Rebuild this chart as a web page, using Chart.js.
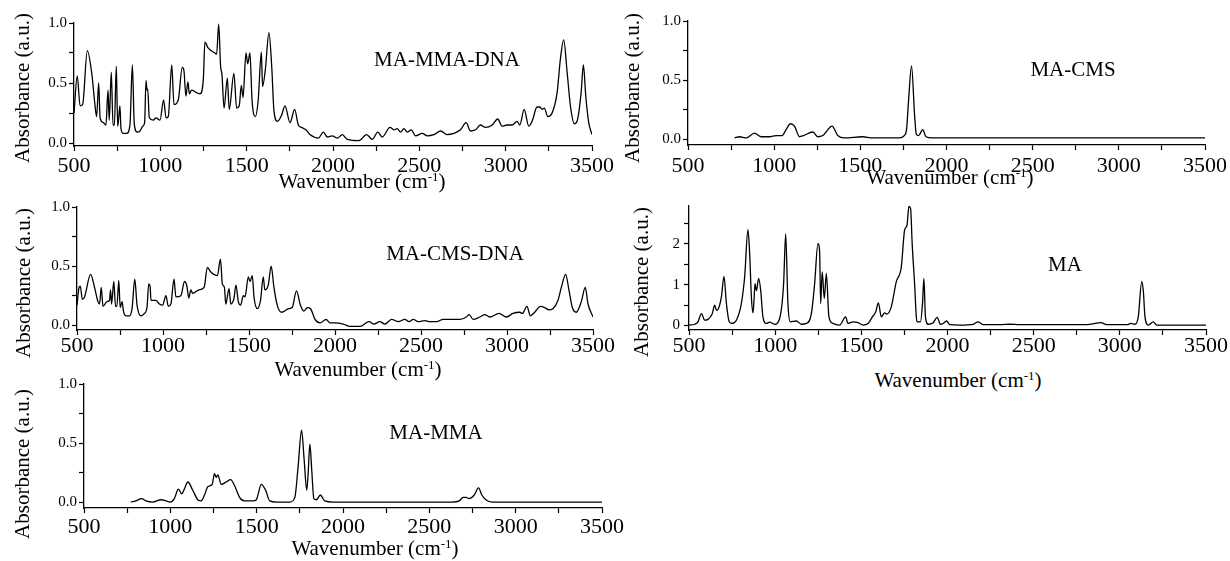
<!DOCTYPE html>
<html>
<head>
<meta charset="utf-8">
<title>FTIR spectra</title>
<script src="https://cdn.jsdelivr.net/npm/chart.js@4.4.1/dist/chart.umd.min.js"></script>
<style>
  html, body { margin: 0; padding: 0; background: #fff; }
  #page {
    position: relative; width: 1230px; height: 561px; overflow: hidden;
    font-family: "Liberation Serif", "Times New Roman", serif; color: #000;
  }
  canvas { position: absolute; }
  .lbl { position: absolute; font-size: 21px; line-height: 21px; white-space: nowrap; }
  .ctr { transform: translateX(-50%); }
  .rot { transform: translate(-50%, -50%) rotate(-90deg); }
  .lbl sup { font-size: 13px; line-height: 0; vertical-align: 7px; }
</style>
</head>
<body>
<div id="page">
  <canvas id="c1"></canvas>
  <canvas id="c2"></canvas>
  <canvas id="c3"></canvas>
  <canvas id="c4"></canvas>
  <canvas id="c5"></canvas>

  <div class="lbl ctr" style="left:447px; top:49px">MA-MMA-DNA</div>
  <div class="lbl ctr" style="left:455px; top:243px">MA-CMS-DNA</div>
  <div class="lbl ctr" style="left:436px; top:422px">MA-MMA</div>
  <div class="lbl ctr" style="left:1073px; top:59px">MA-CMS</div>
  <div class="lbl ctr" style="left:1065px; top:254px">MA</div>

  <div class="lbl ctr" style="left:362px; top:171px">Wavenumber (cm<sup>-1</sup>)</div>
  <div class="lbl ctr" style="left:358px; top:359px">Wavenumber (cm<sup>-1</sup>)</div>
  <div class="lbl ctr" style="left:375px; top:538px">Wavenumber (cm<sup>-1</sup>)</div>
  <div class="lbl ctr" style="left:950px; top:167px">Wavenumber (cm<sup>-1</sup>)</div>
  <div class="lbl ctr" style="left:958px; top:370px">Wavenumber (cm<sup>-1</sup>)</div>

  <div class="lbl rot" style="left:22px; top:88px">Absorbance (a.u.)</div>
  <div class="lbl rot" style="left:23px; top:283px">Absorbance (a.u.)</div>
  <div class="lbl rot" style="left:22px; top:464px">Absorbance (a.u.)</div>
  <div class="lbl rot" style="left:632px; top:88px">Absorbance (a.u.)</div>
  <div class="lbl rot" style="left:641px; top:282px">Absorbance (a.u.)</div>
</div>

<script>
// tick positions (minor ticks included, only some get a label)
const xTickValues = [500, 750, 1000, 1250, 1500, 1750, 2000, 2250, 2500, 2750, 3000, 3250, 3500];
const xLabelValues = [500, 1000, 1500, 2000, 2500, 3000, 3500];
const yTickValues = [0, 0.25, 0.5, 0.75, 1.0];
const yLabelValues = [0, 0.5, 1.0];
const maTickValues = [0, 0.5, 1, 1.5, 2, 2.5];
const maLabelValues = [0, 1, 2];

// spectra: [wavenumber, absorbance]
const maMmaDna = [
  [500, 0.25], [519, 0.56], [535, 0.31], [550, 0.32], [577, 0.77], [602, 0.59], [622, 0.31],
  [631, 0.22], [643, 0.50], [651, 0.21], [670, 0.17], [685, 0.15], [697, 0.44], [704, 0.19],
  [716, 0.59], [726, 0.15], [734, 0.15], [745, 0.64], [753, 0.14], [759, 0.21], [766, 0.31],
  [772, 0.12], [786, 0.08], [805, 0.08], [824, 0.15], [838, 0.65], [849, 0.16], [867, 0.09],
  [882, 0.10], [898, 0.14], [909, 0.17], [917, 0.52], [923, 0.44], [927, 0.45], [936, 0.21],
  [959, 0.19], [975, 0.21], [998, 0.19], [1019, 0.36], [1033, 0.21], [1046, 0.22], [1066, 0.65],
  [1079, 0.32], [1104, 0.36], [1127, 0.63], [1137, 0.60], [1148, 0.39], [1160, 0.51], [1168, 0.41],
  [1181, 0.44], [1210, 0.42], [1230, 0.41], [1249, 0.53], [1258, 0.84], [1278, 0.79], [1316, 0.75],
  [1326, 0.74], [1338, 0.99], [1349, 0.64], [1357, 0.57], [1369, 0.29], [1388, 0.54], [1399, 0.28],
  [1426, 0.58], [1442, 0.29], [1457, 0.31], [1469, 0.48], [1479, 0.38], [1496, 0.75], [1506, 0.66],
  [1519, 0.75], [1531, 0.36], [1550, 0.22], [1567, 0.36], [1585, 0.76], [1592, 0.47], [1608, 0.61],
  [1629, 0.92], [1645, 0.64], [1658, 0.27], [1678, 0.18], [1702, 0.23], [1722, 0.31], [1751, 0.17],
  [1778, 0.28], [1799, 0.15], [1818, 0.13], [1843, 0.11], [1866, 0.07], [1890, 0.05], [1915, 0.04],
  [1944, 0.09], [1967, 0.05], [1996, 0.06], [2025, 0.04], [2054, 0.07], [2083, 0.03], [2150, 0.02],
  [2195, 0.07], [2227, 0.03], [2260, 0.09], [2285, 0.05], [2330, 0.13], [2353, 0.11], [2372, 0.12],
  [2391, 0.09], [2411, 0.12], [2430, 0.09], [2453, 0.11], [2478, 0.06], [2517, 0.08], [2546, 0.06],
  [2584, 0.07], [2623, 0.10], [2661, 0.07], [2700, 0.08], [2738, 0.11], [2771, 0.17], [2796, 0.10],
  [2825, 0.11], [2854, 0.15], [2883, 0.13], [2922, 0.15], [2954, 0.20], [2979, 0.14], [3008, 0.15],
  [3037, 0.15], [3066, 0.18], [3082, 0.15], [3107, 0.28], [3134, 0.14], [3153, 0.18], [3182, 0.30],
  [3197, 0.30], [3211, 0.28], [3224, 0.29], [3244, 0.22], [3269, 0.25], [3298, 0.42], [3317, 0.70],
  [3336, 0.86], [3356, 0.59], [3375, 0.31], [3398, 0.16], [3417, 0.20], [3437, 0.42], [3450, 0.65],
  [3464, 0.39], [3481, 0.17], [3500, 0.07]
];

const maCmsDna = [
  [500, 0.17], [512, 0.32], [519, 0.33], [531, 0.22], [544, 0.24], [579, 0.43], [602, 0.32],
  [622, 0.20], [631, 0.18], [641, 0.32], [651, 0.16], [674, 0.20], [689, 0.21], [695, 0.30],
  [701, 0.18], [714, 0.37], [724, 0.16], [732, 0.16], [743, 0.38], [751, 0.15], [762, 0.20],
  [770, 0.12], [786, 0.08], [805, 0.08], [820, 0.14], [836, 0.39], [849, 0.17], [872, 0.08],
  [892, 0.10], [907, 0.15], [917, 0.35], [925, 0.33], [930, 0.21], [959, 0.21], [979, 0.18],
  [998, 0.17], [1017, 0.25], [1031, 0.16], [1046, 0.18], [1064, 0.39], [1075, 0.24], [1104, 0.25],
  [1125, 0.37], [1139, 0.33], [1150, 0.23], [1162, 0.30], [1172, 0.27], [1210, 0.30], [1239, 0.32],
  [1258, 0.49], [1278, 0.45], [1316, 0.42], [1334, 0.56], [1345, 0.35], [1357, 0.32], [1365, 0.18],
  [1384, 0.31], [1394, 0.18], [1413, 0.23], [1424, 0.34], [1438, 0.20], [1451, 0.17], [1467, 0.25],
  [1477, 0.24], [1496, 0.41], [1506, 0.37], [1519, 0.42], [1529, 0.24], [1548, 0.14], [1567, 0.21],
  [1583, 0.41], [1592, 0.30], [1612, 0.34], [1629, 0.50], [1645, 0.32], [1664, 0.17], [1689, 0.11],
  [1731, 0.14], [1751, 0.15], [1776, 0.29], [1799, 0.17], [1818, 0.12], [1840, 0.15], [1858, 0.14],
  [1884, 0.05], [1913, 0.02], [1948, 0.05], [1971, 0.02], [2000, 0.02], [2048, 0.01], [2087, -0.01],
  [2145, -0.01], [2199, 0.03], [2226, 0.01], [2261, 0.03], [2290, 0.01], [2329, 0.05], [2368, 0.03],
  [2406, 0.05], [2431, 0.03], [2455, 0.05], [2484, 0.03], [2522, 0.04], [2551, 0.03], [2590, 0.03],
  [2629, 0.05], [2677, 0.05], [2726, 0.05], [2764, 0.07], [2780, 0.09], [2803, 0.05], [2842, 0.07],
  [2871, 0.09], [2900, 0.07], [2954, 0.10], [2997, 0.07], [3035, 0.10], [3074, 0.11], [3089, 0.10],
  [3116, 0.16], [3136, 0.08], [3161, 0.11], [3194, 0.16], [3219, 0.15], [3244, 0.13], [3267, 0.14],
  [3296, 0.21], [3316, 0.32], [3341, 0.43], [3360, 0.30], [3380, 0.15], [3403, 0.11], [3432, 0.20],
  [3455, 0.32], [3471, 0.18], [3500, 0.07]
];

const maMma = [
  [771, 0.00], [800, 0.01], [833, 0.03], [859, 0.01], [897, 0.00], [946, 0.02], [975, 0.01],
  [998, 0.00], [1023, 0.03], [1047, 0.11], [1066, 0.07], [1081, 0.11], [1101, 0.17], [1130, 0.10],
  [1159, 0.02], [1178, 0.01], [1198, 0.06], [1217, 0.13], [1242, 0.15], [1256, 0.24], [1266, 0.21],
  [1275, 0.23], [1295, 0.15], [1324, 0.17], [1349, 0.19], [1372, 0.14], [1401, 0.04], [1430, 0.01],
  [1479, 0.01], [1498, 0.02], [1527, 0.15], [1552, 0.10], [1576, 0.01], [1614, 0.00], [1692, 0.00],
  [1721, 0.04], [1740, 0.30], [1760, 0.61], [1775, 0.36], [1790, 0.10], [1798, 0.24], [1808, 0.49],
  [1819, 0.27], [1831, 0.03], [1846, 0.02], [1869, 0.06], [1894, 0.01], [1942, 0.00], [2635, 0.00],
  [2673, 0.01], [2696, 0.04], [2712, 0.04], [2731, 0.03], [2760, 0.06], [2785, 0.12], [2804, 0.06],
  [2827, 0.02], [2865, 0.00], [3500, 0.00]
];

const maCms = [
  [770, 0.01], [799, 0.02], [838, 0.01], [886, 0.05], [925, 0.02], [973, 0.02], [1011, 0.03],
  [1046, 0.03], [1069, 0.08], [1094, 0.13], [1118, 0.11], [1147, 0.02], [1170, 0.03], [1224, 0.06],
  [1253, 0.02], [1282, 0.03], [1336, 0.11], [1369, 0.03], [1407, 0.01], [1513, 0.02], [1571, 0.01],
  [1726, 0.01], [1755, 0.03], [1768, 0.08], [1780, 0.33], [1797, 0.62], [1815, 0.20], [1825, 0.04],
  [1838, 0.03], [1862, 0.08], [1881, 0.02], [1916, 0.01], [3500, 0.01]
];

const ma = [
  [500, 0.01], [533, 0.03], [552, 0.09], [572, 0.29], [591, 0.13], [610, 0.15], [635, 0.29],
  [649, 0.50], [659, 0.37], [668, 0.39], [688, 0.70], [703, 1.20], [717, 0.54], [732, 0.11],
  [746, 0.05], [775, 0.13], [804, 0.54], [823, 1.19], [842, 2.34], [852, 1.76], [862, 0.70],
  [871, 0.31], [877, 0.60], [883, 1.02], [891, 0.85], [904, 1.15], [916, 0.86], [929, 0.21],
  [949, 0.05], [968, 0.08], [997, 0.03], [1026, 0.17], [1049, 1.02], [1061, 2.24], [1074, 0.54],
  [1088, 0.09], [1123, 0.11], [1152, 0.03], [1181, 0.05], [1210, 0.29], [1229, 1.02], [1248, 2.00],
  [1258, 1.80], [1264, 0.54], [1273, 1.31], [1285, 0.66], [1297, 1.27], [1312, 0.21], [1335, 0.05],
  [1374, 0.01], [1409, 0.21], [1422, 0.05], [1452, 0.09], [1481, 0.07], [1510, 0.01], [1539, 0.05],
  [1564, 0.21], [1583, 0.33], [1599, 0.55], [1616, 0.21], [1635, 0.31], [1649, 0.28], [1674, 0.46],
  [1703, 1.07], [1732, 1.43], [1751, 2.33], [1765, 2.45], [1776, 2.91], [1786, 2.85], [1795, 2.00],
  [1809, 1.02], [1819, 0.21], [1824, 0.09], [1843, 0.09], [1855, 0.54], [1863, 1.15], [1872, 0.21],
  [1888, 0.03], [1917, 0.07], [1940, 0.20], [1959, 0.03], [1975, 0.05], [1994, 0.11], [2014, 0.02],
  [2072, 0.01], [2149, 0.03], [2178, 0.09], [2207, 0.02], [2304, 0.02], [2362, 0.03], [2420, 0.02],
  [2807, 0.02], [2891, 0.07], [2923, 0.02], [3043, 0.02], [3063, 0.05], [3088, 0.03], [3107, 0.21],
  [3127, 1.07], [3136, 0.86], [3146, 0.21], [3165, 0.01], [3194, 0.09], [3214, 0.01], [3500, 0.01]
];

Chart.defaults.font.family = '"Liberation Serif", "Times New Roman", serif';
Chart.defaults.color = "#000";

const fixed1 = (v) => v.toFixed(1);

const panels = [
  { id: "c1", points: maMmaDna, left: 0, top: 0, width: 620, height: 176, padTop: 23, padRight: 28,
    yWidth: 74, xPad: 2, yPad: 2, yMin: -0.025, yMax: 1.0, yTicks: yTickValues, yLabels: yLabelValues, yFmt: fixed1 },
  { id: "c2", points: maCmsDna, left: 0, top: 180, width: 621, height: 180, padTop: 27, padRight: 28,
    yWidth: 77, xPad: -2, yPad: 2, yMin: -0.04, yMax: 1.0, yTicks: yTickValues, yLabels: yLabelValues, yFmt: fixed1 },
  { id: "c3", points: maMma, left: 0, top: 360, width: 630, height: 178, padTop: 24, padRight: 28,
    yWidth: 84, xPad: 1, yPad: 2, yMin: -0.05, yMax: 1.0, yTicks: yTickValues, yLabels: yLabelValues, yFmt: fixed1 },
  { id: "c4", points: maCms, left: 610, top: 0, width: 620, height: 175, padTop: 21, padRight: 25,
    yWidth: 78, xPad: 3, yPad: 2, yMin: -0.05, yMax: 1.0, yTicks: yTickValues, yLabels: yLabelValues, yFmt: fixed1 },
  { id: "c5", points: ma, left: 619, top: 180, width: 611, height: 180, padTop: 26, padRight: 24,
    yWidth: 70, xPad: -2, yPad: 4, yMin: -0.11, yMax: 2.92, yTicks: maTickValues, yLabels: maLabelValues, yFmt: (v) => String(v) }
];

const X_HEIGHT = 30;

function makeChart(p) {
  const canvas = document.getElementById(p.id);
  canvas.width = p.width;
  canvas.height = p.height;
  canvas.style.left = p.left + "px";
  canvas.style.top = p.top + "px";

  const axisGrid = {
    display: true,
    drawOnChartArea: false,
    drawTicks: true,
    tickLength: 5,
    tickColor: "#000",
    tickWidth: 1.2
  };

  return new Chart(canvas, {
    type: "line",
    data: {
      datasets: [
        {
          data: p.points.map((pt) => ({ x: pt[0], y: pt[1] })),
          borderColor: "#000",
          borderWidth: 1.3,
          pointRadius: 0,
          fill: false,
          cubicInterpolationMode: "monotone"
        }
      ]
    },
    options: {
      responsive: false,
      animation: false,
      events: [],
      layout: { padding: { left: 0, top: p.padTop, right: p.padRight, bottom: 0 } },
      plugins: { legend: { display: false }, tooltip: { enabled: false } },
      scales: {
        x: {
          type: "linear",
          min: 500,
          max: 3500,
          afterBuildTicks: (s) => { s.ticks = xTickValues.map((v) => ({ value: v })); },
          afterFit: (s) => { s.height = X_HEIGHT; s.paddingLeft = 0; s.paddingRight = 0; },
          ticks: {
            autoSkip: false,
            maxRotation: 0,
            padding: p.xPad,
            font: { size: 22 },
            callback: (v) => (xLabelValues.includes(v) ? String(v) : "")
          },
          grid: axisGrid,
          border: { display: true, color: "#000", width: 1.3 }
        },
        y: {
          type: "linear",
          min: p.yMin,
          max: p.yMax,
          afterBuildTicks: (s) => { s.ticks = p.yTicks.map((v) => ({ value: v })); },
          afterFit: (s) => { s.width = p.yWidth; s.paddingTop = 0; s.paddingBottom = 0; },
          ticks: {
            autoSkip: false,
            padding: p.yPad,
            font: { size: 15 },
            callback: (v) => (p.yLabels.includes(v) ? p.yFmt(v) : "")
          },
          grid: axisGrid,
          border: { display: true, color: "#000", width: 1.3 }
        }
      }
    }
  });
}

panels.forEach(makeChart);
</script>
</body>
</html>
